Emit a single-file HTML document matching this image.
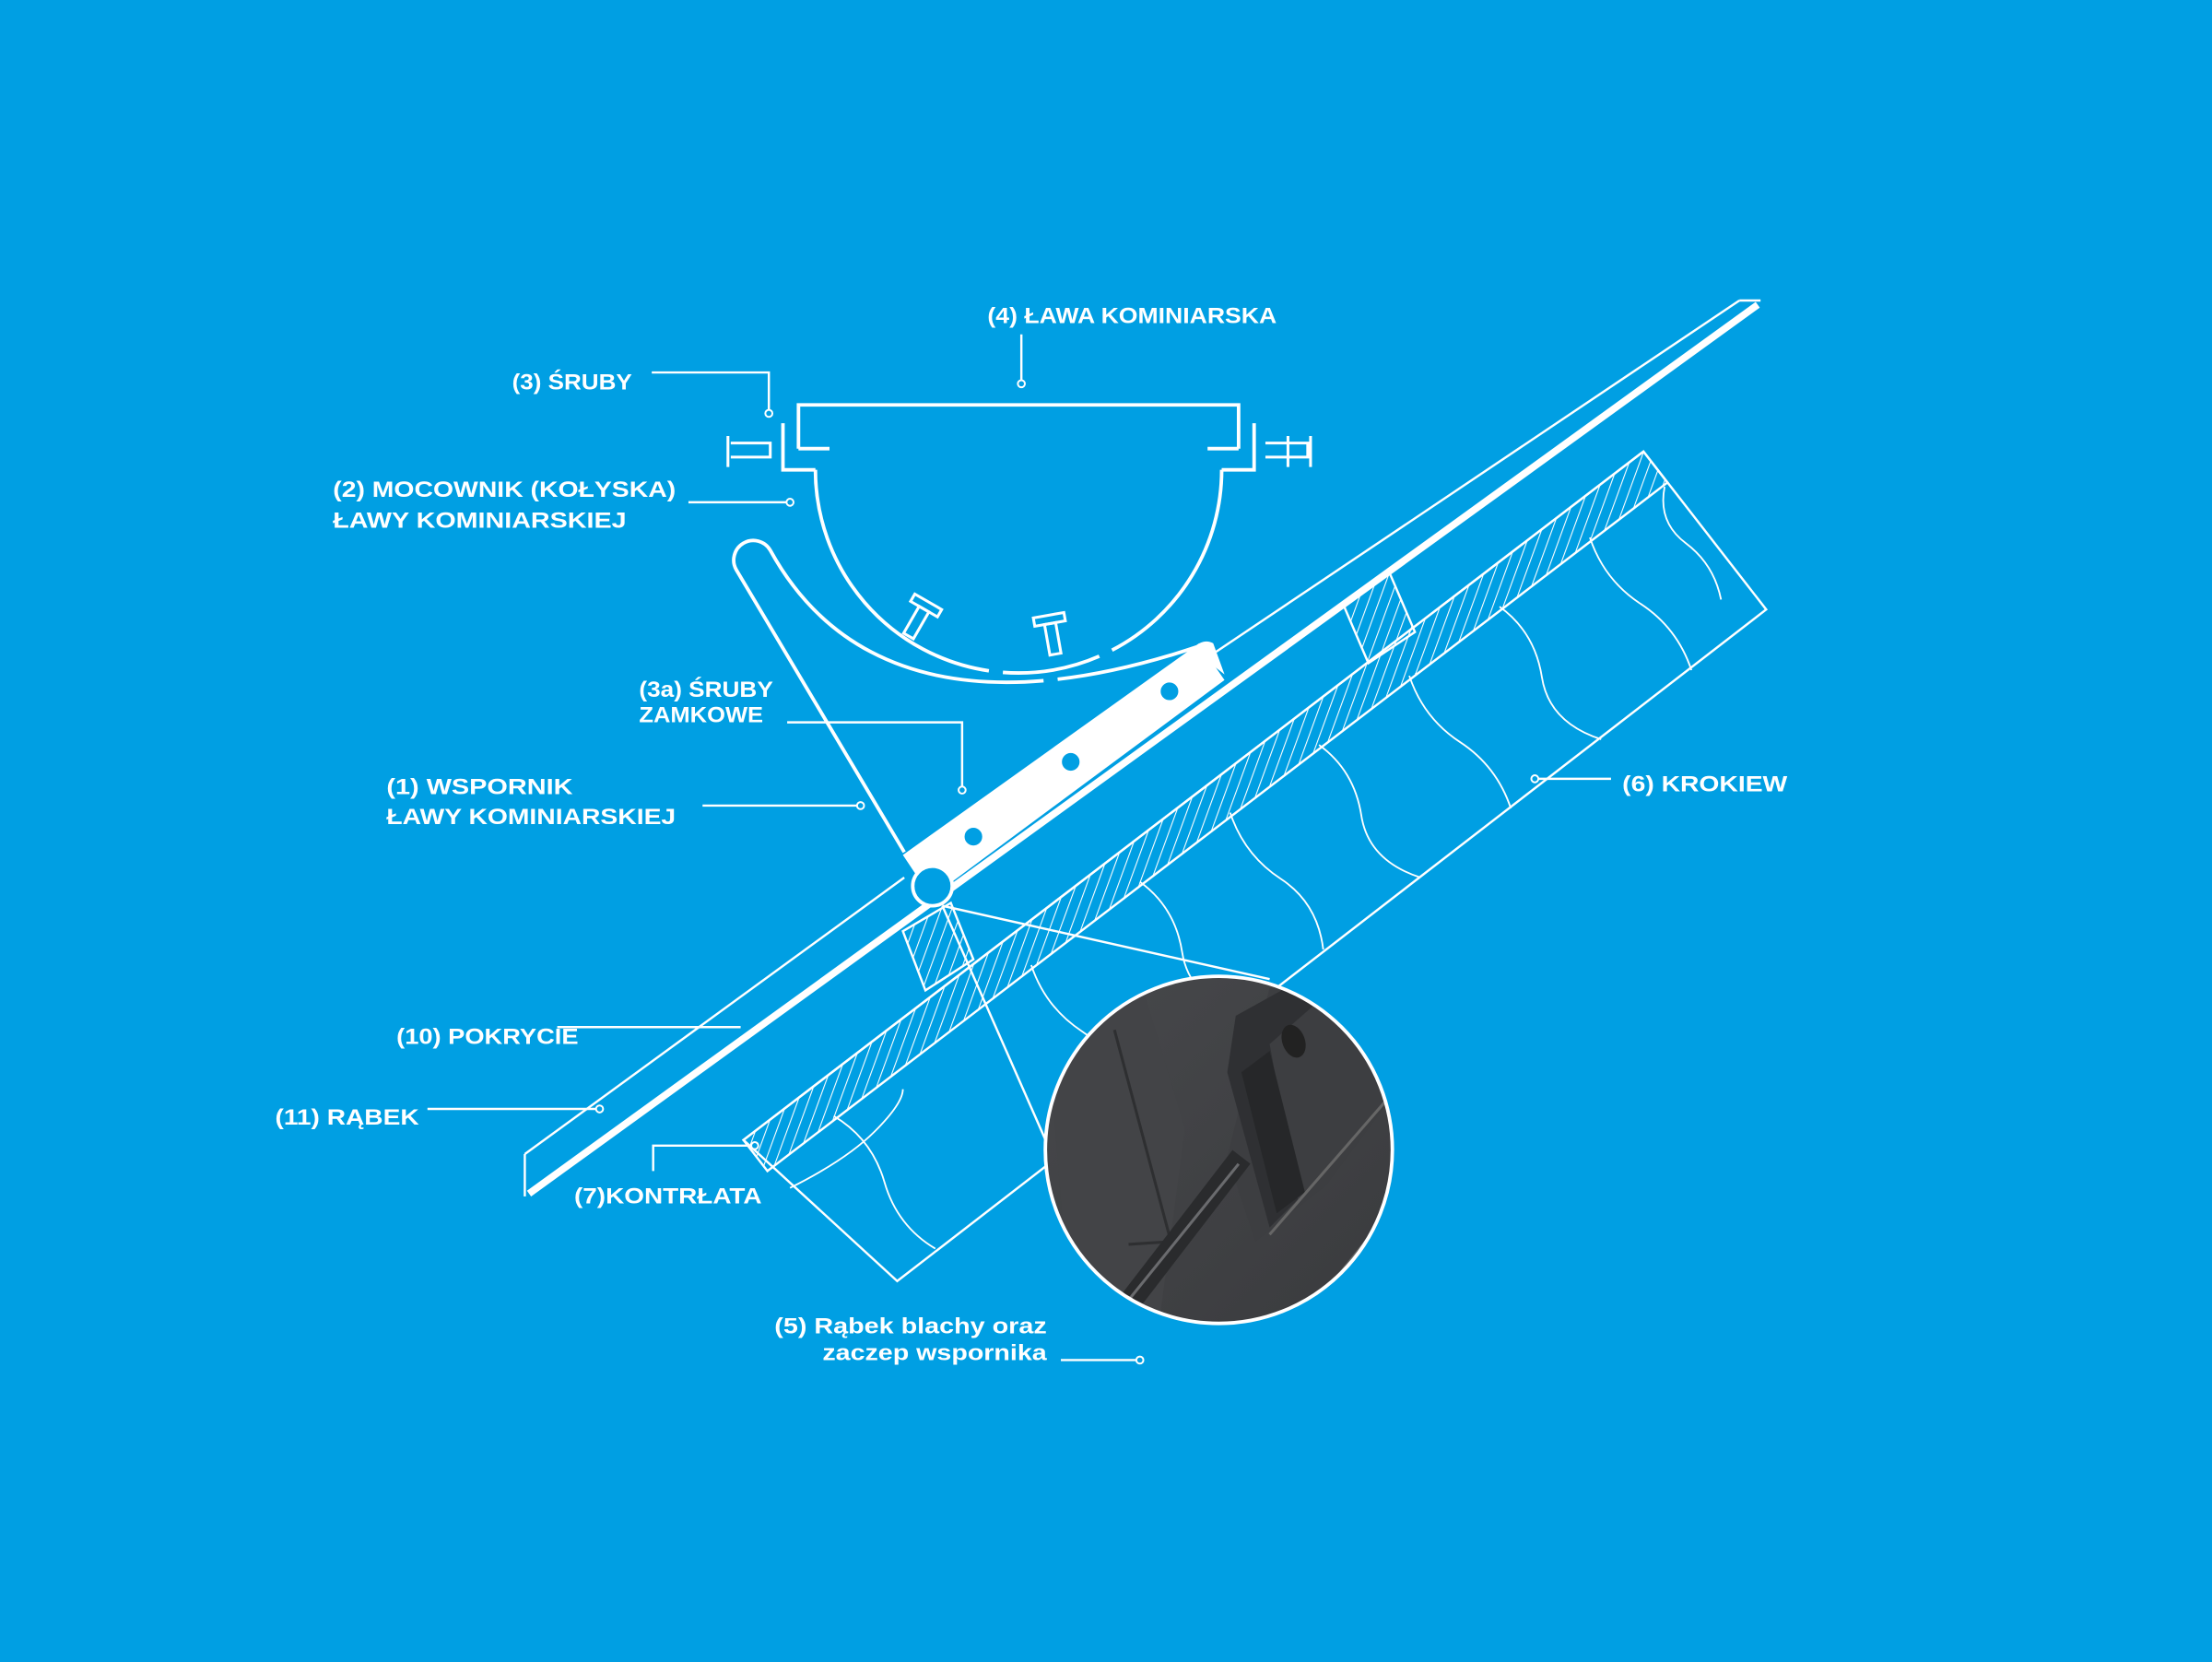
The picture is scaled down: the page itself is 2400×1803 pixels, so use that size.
<!DOCTYPE html>
<html><head><meta charset="utf-8"><style>
html,body{margin:0;padding:0;background:#009fe3;}
svg{display:block}
text{font-family:"Liberation Sans",sans-serif;font-weight:bold;fill:#fff;font-size:16px}
</style></head><body>
<svg width="2400" height="1803" viewBox="0 0 1568 1178" xmlns="http://www.w3.org/2000/svg">
<defs>
<pattern id="h" patternUnits="userSpaceOnUse" width="7" height="7" patternTransform="rotate(20)">
<line x1="0" y1="0" x2="0" y2="7" stroke="#fff" stroke-width="1.4"/>
</pattern>
<clipPath id="cc"><circle cx="864" cy="815" r="123"/></clipPath>
<linearGradient id="g" x1="0" y1="0" x2="1" y2="1"><stop offset="0" stop-color="#47484b"/><stop offset="1" stop-color="#3a3b3e"/></linearGradient>
</defs>
<rect width="1568" height="1178" fill="#009fe3"/>
<g fill="none" stroke="#fff" stroke-width="1.6">
<polygon points="527,808 1165,320 1252,432 636,908"/>
<polygon points="527,808 1165,320 1182,342 544,830" fill="url(#h)"/>
<polygon points="952,428 985,406 1003,448 970,470" fill="url(#h)"/>
<polygon points="640,660 674,640 690,680 656,702" fill="url(#h)"/>
<g stroke-width="1.2">
<path d="M591,791 q27,16 36,47 t36,47"/>
<path d="M731,684 q10,30 36,47 t36,47"/>
<path d="M808,625 q25,18 30,50 t42,44"/>
<path d="M872,576 q10,30 36,47 t30,50"/>
<path d="M935,528 q25,18 30,50 t42,44"/>
<path d="M999,479 q10,30 36,47 t36,47"/>
<path d="M1063,430 q25,18 30,50 t42,44"/>
<path d="M1127,381 q10,30 36,47 t36,47"/>
<path d="M1180,345 q-5,25 15,40 t25,40"/>
<path d="M560,842 q40,-20 60,-40 t20,-30"/>
</g>
<line x1="372" y1="818" x2="641" y2="622"/>
<line x1="862" y1="462" x2="1233" y2="213"/>
<line x1="372" y1="818" x2="372" y2="848"/>
<line x1="1233" y1="213" x2="1248" y2="213"/>
<line x1="375" y1="846" x2="1246" y2="216" stroke-width="5"/>
<line x1="668" y1="642" x2="742" y2="810"/>
<line x1="668" y1="642" x2="900" y2="694"/>
<path d="M566,318 V287 H878 V318 M566,318 H588 M856,318 H878" stroke-width="2.5"/>
<path d="M555,300 V333 H578 M889,300 V333 H866" stroke-width="2.5"/>
<path d="M578,333 A144,144 0 0 0 866,333" stroke-width="2.5" stroke-dasharray="205 10 70 10 400"/>
<path d="M641,604 L522,404 A13,13 0 0 1 546,390 C590,470 680,515 850,458" stroke-width="2.5" stroke-dasharray="505 10 110 10 400"/>
<path d="M516,309 v22 M518,314 h28 v10 h-28 M913,309 v22 M929,309 v22 M897,314 h30 v10 h-30" stroke-width="2"/>
<g transform="translate(656,430) rotate(30)" stroke-width="2"><rect x="-11" y="-4" width="22" height="6"/><rect x="-4" y="2" width="8" height="22"/></g>
<g transform="translate(744,440) rotate(-10)" stroke-width="2"><rect x="-11" y="-4" width="22" height="6"/><rect x="-4" y="2" width="8" height="22"/></g>
</g>
<polygon points="640,606 850,456 868,482 660,636" fill="#fff"/>
<path d="M845,460 q8,-8 15,-4 l8,22" fill="#fff"/>
<g fill="#009fe3" stroke="#fff" stroke-width="1.5">
<circle cx="690" cy="593" r="7"/><circle cx="759" cy="540" r="7"/><circle cx="829" cy="490" r="7"/>
<circle cx="661" cy="628" r="14" stroke-width="2.5"/>
</g>
<circle cx="864" cy="815" r="123" fill="url(#g)"/>
<g clip-path="url(#cc)">
<polygon points="740,700 810,700 840,800 820,950 760,950" fill="#434447"/>
<path d="M790,730 L830,880 L800,882" fill="none" stroke="#2e2f31" stroke-width="2"/>
<polygon points="900,700 1000,700 1000,760 940,840 890,880 870,820" fill="#3d3e41"/>
<polygon points="876,720 930,690 940,705 900,740 920,850 900,870 870,760" fill="#2f3033"/>
<polygon points="880,760 900,745 925,845 905,860" fill="#262729"/>
<path d="M780,950 L880,820" stroke="#2a2b2d" stroke-width="16"/>
<path d="M785,940 L878,825" stroke="#6a6b6e" stroke-width="2"/>
<path d="M900,875 L1000,760 M920,940 L1000,840" stroke="#666" stroke-width="2" fill="none"/>
<ellipse cx="917" cy="738" rx="8" ry="12" fill="#222" transform="rotate(-20 917 738)"/>
</g>
<circle cx="864" cy="815" r="123" fill="none" stroke="#fff" stroke-width="2.5"/>
<g fill="none" stroke="#fff" stroke-width="1.6">
<path d="M724,237 V272"/>
<path d="M462,264 H545 V293"/>
<path d="M488,356 H560"/>
<path d="M558,512 H682 V560"/>
<path d="M498,571 H610"/>
<path d="M395,728 H525"/>
<path d="M303,786 H425"/>
<path d="M463,830 V812 H535"/>
<path d="M752,964 H808"/>
<path d="M1088,552 H1142"/>
</g>
<g fill="#009fe3" stroke="#fff" stroke-width="1.3">
<circle cx="724" cy="272" r="2.5"/><circle cx="545" cy="293" r="2.5"/><circle cx="560" cy="356" r="2.5"/>
<circle cx="682" cy="560" r="2.5"/><circle cx="610" cy="571" r="2.5"/><circle cx="425" cy="786" r="2.5"/>
<circle cx="535" cy="812" r="2.5"/><circle cx="808" cy="964" r="2.5"/><circle cx="1088" cy="552" r="2.5"/>
</g>
<g lengthAdjust="spacingAndGlyphs">
<text x="700" y="229" textLength="205" lengthAdjust="spacingAndGlyphs">(4) ŁAWA  KOMINIARSKA</text>
<text x="363" y="276" textLength="85" lengthAdjust="spacingAndGlyphs">(3) ŚRUBY</text>
<text x="236" y="352" textLength="243" lengthAdjust="spacingAndGlyphs">(2) MOCOWNIK (KOŁYSKA)</text>
<text x="236" y="374" textLength="208" lengthAdjust="spacingAndGlyphs">ŁAWY KOMINIARSKIEJ</text>
<text x="453" y="494" textLength="95" lengthAdjust="spacingAndGlyphs">(3a) ŚRUBY</text>
<text x="453" y="512" textLength="88" lengthAdjust="spacingAndGlyphs">ZAMKOWE</text>
<text x="274" y="563" textLength="132" lengthAdjust="spacingAndGlyphs">(1) WSPORNIK</text>
<text x="274" y="584" textLength="205" lengthAdjust="spacingAndGlyphs">ŁAWY KOMINIARSKIEJ</text>
<text x="281" y="740" textLength="129" lengthAdjust="spacingAndGlyphs">(10) POKRYCIE</text>
<text x="195" y="797" textLength="102" lengthAdjust="spacingAndGlyphs">(11) RĄBEK</text>
<text x="407" y="853" textLength="133" lengthAdjust="spacingAndGlyphs">(7)KONTRŁATA</text>
<text x="549" y="945" textLength="193" lengthAdjust="spacingAndGlyphs">(5) Rąbek blachy oraz</text>
<text x="583" y="964" textLength="159" lengthAdjust="spacingAndGlyphs">zaczep wspornika</text>
<text x="1150" y="561" textLength="117" lengthAdjust="spacingAndGlyphs">(6) KROKIEW</text>
</g>
</svg>
</body></html>
